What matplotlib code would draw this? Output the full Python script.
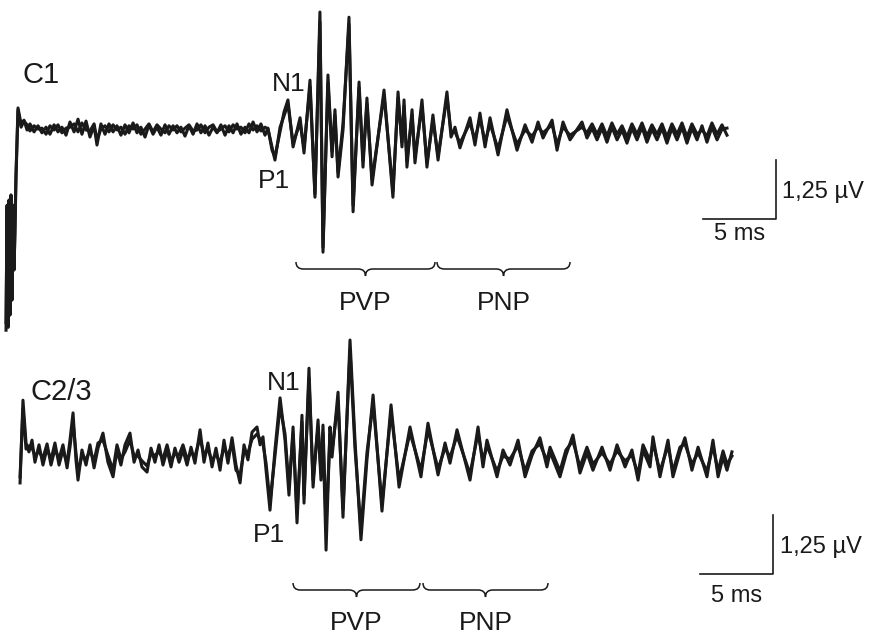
import numpy as np
import matplotlib.pyplot as plt
from matplotlib.path import Path
from matplotlib.patches import PathPatch

# Averaged evoked potentials, two runs per channel (time in ms, amplitude in uV)
c1_time = [
    -0.82, -0.75, -0.68, -0.62, -0.55, -0.48, -0.41, -0.34, -0.27, -0.21, -0.14, -0.07, 0.00,
    0.21, 0.41, 0.62, 0.82, 1.10, 1.37, 1.64, 1.92, 2.19, 2.47,
    2.74, 3.01, 3.29, 3.56, 3.84, 4.11, 4.38, 4.66, 4.93, 5.21,
    5.41, 5.68, 5.96, 6.23, 6.51, 6.78, 7.05, 7.33, 7.60, 7.88,
    8.15, 8.42, 8.70, 8.97, 9.25, 9.52, 9.79, 10.07, 10.34, 10.62,
    10.89, 11.16, 11.44, 11.71, 11.99, 12.26, 12.53, 12.81, 13.08, 13.36,
    13.63, 13.90, 14.18, 14.45, 14.73, 15.00, 15.27, 15.55, 15.82, 16.10,
    16.37, 16.64, 16.92, 17.12,
    17.40, 17.60, 17.95, 18.22, 18.49, 18.84, 19.32, 19.59, 20.00, 20.34,
    20.68, 20.89, 21.23, 21.51, 21.71, 21.92, 22.26, 22.67, 22.95, 23.36,
    23.63, 23.90, 24.25, 25.07, 25.68, 26.03, 26.30, 26.44, 26.64, 26.99,
    27.19, 27.67, 28.01, 28.42, 28.77, 29.38, 29.66, 29.93, 30.27, 30.96,
    31.30, 31.64, 31.99, 32.33, 32.88, 33.49, 34.18, 34.73, 35.21, 35.62,
    35.96, 36.58, 36.92, 37.33, 37.81, 38.63, 38.97, 39.32, 39.66, 40.00,
    40.34, 40.68, 41.03, 41.37, 41.71, 42.05, 42.40, 42.74, 43.08, 43.42,
    43.77, 44.11, 44.45, 44.79, 45.14, 45.48, 45.82, 46.16, 46.51, 46.85,
    47.19, 47.53, 47.88, 48.22, 48.56,
]
c1_run1 = [
    -4.26, -1.60, -4.15, -1.49, -3.94, -1.38, -3.62, -1.60, -2.98, -2.13, -0.96, -0.21, 0.47,
    0.13, 0.21, 0.00, 0.13, -0.04, 0.09, -0.06, 0.06, -0.09, 0.11,
    -0.04, 0.06, -0.11, 0.17, -0.04, 0.23, -0.09, 0.19, -0.15, 0.09,
    -0.32, 0.13, -0.09, 0.13, -0.04, 0.09, -0.11, 0.11, -0.06, 0.15,
    -0.06, 0.06, -0.15, 0.11, -0.09, 0.06, -0.11, 0.11, -0.09, 0.09,
    -0.06, 0.06, -0.13, 0.09, -0.09, 0.13, -0.06, 0.09, -0.11, 0.06,
    -0.06, 0.11, -0.11, 0.09, -0.06, 0.13, -0.09, 0.06, -0.06, 0.17,
    -0.04, 0.13, -0.11, 0.04,
    -0.43, -0.57, -0.04, 0.38, 0.64, -0.36, 0.26, -0.49, 1.06, -1.43,
    2.51, -2.60, 1.17, -0.57, 0.43, -1.00, 0.00, 2.40, -1.74, 1.02,
    -0.79, 0.68, -1.17, 0.85, -1.43, 0.81, -0.36, 0.64, -0.79, 0.43,
    -0.70, 0.64, -0.79, 0.32, -0.64, 0.81, -0.15, 0.06, -0.38, 0.26,
    -0.32, 0.36, -0.36, 0.26, -0.53, 0.43, -0.43, 0.11, -0.26, 0.17,
    -0.17, 0.21, -0.43, 0.17, -0.21, 0.17, -0.17, 0.04, -0.21, 0.04,
    -0.26, 0.06, -0.21, 0.00, -0.28, 0.04, -0.21, 0.06, -0.26, 0.02,
    -0.21, 0.04, -0.28, 0.04, -0.21, 0.06, -0.28, 0.04, -0.21, 0.09,
    -0.26, 0.06, -0.21, 0.02, 0.04,
]
c1_run2 = [
    -4.10, -1.70, -4.20, -1.55, -3.80, -1.45, -3.50, -1.75, -2.90, -2.20, -1.05, -0.30, 0.42,
    0.06, 0.19, 0.11, -0.02, 0.09, 0.02, 0.04, -0.09, 0.09, 0.00,
    0.11, -0.06, 0.04, 0.06, 0.13, -0.04, 0.15, 0.00, -0.02, 0.13,
    -0.21, 0.02, 0.09, -0.04, 0.11, 0.00, 0.06, -0.09, 0.09, 0.02,
    0.11, -0.09, 0.02, 0.13, -0.04, 0.11, 0.02, -0.06, 0.09, 0.00,
    0.09, -0.04, 0.04, 0.11, -0.02, 0.00, 0.11, -0.06, 0.06, 0.11,
    -0.04, 0.02, 0.09, -0.04, 0.11, 0.02, 0.06, -0.06, 0.13, 0.00,
    0.09, -0.02, 0.06, 0.02,
    -0.36, -0.64, 0.06, 0.30, 0.55, -0.28, 0.15, -0.38, 0.92, -1.36,
    2.30, -2.50, 1.00, -0.45, 0.30, -0.90, 0.13, 2.25, -1.60, 0.90,
    -0.64, 0.55, -1.05, 0.74, -1.30, 0.68, -0.26, 0.51, -0.66, 0.32,
    -0.58, 0.51, -0.70, 0.21, -0.55, 0.70, -0.04, -0.04, -0.28, 0.15,
    -0.21, 0.26, -0.26, 0.13, -0.40, 0.30, -0.30, 0.00, -0.13, 0.06,
    -0.06, 0.11, -0.30, 0.06, -0.11, 0.06, -0.06, 0.13, -0.09, 0.13,
    -0.13, 0.15, -0.09, 0.09, -0.15, 0.13, -0.09, 0.15, -0.13, 0.11,
    -0.09, 0.13, -0.15, 0.13, -0.09, 0.15, -0.15, 0.13, -0.09, 0.00,
    -0.13, 0.15, -0.09, 0.11, -0.11,
]

c23_time = [
    0.14, 0.34, 0.55, 0.75, 0.96, 1.16, 1.44, 1.71, 1.99, 2.26,
    2.53, 2.81, 3.08, 3.36, 3.56, 3.77, 3.97, 4.11, 4.38, 4.66,
    4.93, 5.21, 5.48, 5.82, 6.16, 6.51, 6.78, 7.05, 7.33, 7.67,
    7.95, 8.22, 8.49, 8.84, 9.11, 9.38, 9.66, 9.93, 10.21, 10.48,
    10.75, 11.03, 11.30, 11.58, 11.85, 12.12, 12.47, 12.74, 13.01, 13.29,
    13.56, 13.84, 14.11, 14.38, 14.66, 14.93, 15.21, 15.48, 15.75, 16.03,
    16.37, 16.58, 16.78, 16.99, 17.26, 17.60, 17.95, 18.29, 18.56, 18.84,
    19.11, 19.45, 19.59, 19.93, 20.21, 20.55, 20.75, 20.89, 21.10, 21.37,
    21.51, 21.92, 22.26, 22.74, 23.08, 23.49, 23.90, 24.32, 24.93, 25.55,
    26.10, 26.85, 27.60, 28.08, 28.77, 29.25, 29.59, 30.07, 30.96, 31.51,
    31.85, 32.12, 32.81, 33.22, 33.70, 34.25, 34.73, 35.21, 35.75, 36.23,
    36.44, 37.12, 37.53, 38.01, 38.49, 38.97, 39.38, 40.00, 40.55, 41.03,
    41.58, 42.05, 42.47, 42.81, 43.29, 43.49, 43.97, 44.52, 44.86, 45.34,
    45.68, 46.16, 46.58, 47.19, 47.60, 47.95, 48.29, 48.56, 48.90,
]
c23_run1 = [
    -0.53, 1.23, 0.32, 0.13, 0.38, -0.09, 0.28, -0.15, 0.21, -0.04,
    0.32, -0.15, 0.17, -0.11, 0.38, 0.96, -0.04, -0.47, 0.17, -0.15,
    0.28, -0.21, 0.21, 0.53, -0.09, -0.40, 0.17, -0.15, 0.28, 0.53,
    -0.09, 0.17, -0.19, -0.30, 0.21, -0.09, 0.28, -0.15, 0.17, -0.19,
    0.21, -0.09, 0.17, -0.15, 0.23, -0.11, 0.60, -0.09, 0.32, -0.19,
    0.21, -0.26, 0.38, -0.11, 0.43, -0.15, -0.53, 0.28, -0.04, 0.55,
    0.66, 0.28, 0.45, -0.26, -1.11, 0.17, 1.28, 0.38, -0.79, 0.66,
    -1.38, 0.91, -0.96, 1.91, -0.62, 0.81, -0.47, 0.53, -1.96, 0.66,
    0.02, 1.40, -1.26, 2.51, 0.38, -1.74, -0.04, 1.34, -1.13, 1.13,
    -0.62, 0.66, -0.40, 0.74, -0.36, 0.32, -0.11, 0.60, -0.47, 0.66,
    -0.19, 0.38, -0.40, 0.17, -0.15, 0.38, -0.40, 0.06, 0.43, -0.19,
    0.13, -0.40, 0.06, 0.49, -0.32, 0.11, -0.26, 0.23, -0.26, 0.28,
    -0.19, 0.17, -0.47, 0.17, -0.19, 0.45, -0.40, 0.38, -0.40, 0.13,
    0.43, -0.26, 0.23, -0.40, 0.38, -0.40, 0.02, -0.26, 0.13,
]
c23_run2 = [
    -0.40, 1.05, 0.19, 0.26, 0.21, 0.06, 0.13, 0.00, 0.30, -0.15,
    0.19, -0.02, 0.28, -0.21, 0.23, 0.77, 0.11, -0.30, 0.04, -0.02,
    0.15, -0.06, 0.32, 0.38, 0.06, -0.26, 0.28, -0.02, 0.13, 0.38,
    0.04, 0.04, -0.06, -0.17, 0.09, 0.06, 0.13, -0.02, 0.28, -0.06,
    0.09, 0.06, 0.28, -0.02, 0.11, 0.04, 0.43, 0.06, 0.19, -0.06,
    0.09, -0.11, 0.23, 0.04, 0.30, -0.26, -0.36, 0.15, 0.11, 0.40,
    0.51, 0.40, 0.30, -0.11, -0.94, 0.04, 1.10, 0.51, -0.62, 0.51,
    -1.17, 0.77, -0.79, 1.70, -0.47, 0.66, -0.32, 0.70, -1.45, 0.51,
    0.15, 1.21, -1.08, 2.30, 0.21, -1.53, 0.11, 1.17, -0.98, 0.98,
    -0.47, 0.53, -0.26, 0.60, -0.23, 0.21, 0.02, 0.47, -0.34, 0.53,
    -0.06, 0.26, -0.28, 0.04, -0.02, 0.26, -0.28, 0.15, 0.30, -0.06,
    0.23, -0.28, 0.17, 0.36, -0.19, 0.23, -0.13, 0.11, -0.13, 0.15,
    -0.06, 0.06, -0.34, 0.28, -0.06, 0.32, -0.28, 0.26, -0.28, 0.23,
    0.30, -0.13, 0.11, -0.28, 0.26, -0.28, 0.15, -0.13, 0.04,
]

# component windows (ms) for the braces
c1_windows = [("PVP", 19.04, 28.56), ("PNP", 28.70, 37.81)]
c23_windows = [("PVP", 18.84, 27.53), ("PNP", 27.74, 36.30)]
scale_ms = 5
scale_uv = 1.25

W, H = 888, 635
PX_PER_MS = 14.6
PX_PER_UV = 47.0
c23_offset = -328 / PX_PER_UV  # vertical gap between the two channels

plt.rcParams['font.family'] = ['Liberation Sans', 'DejaVu Sans']
fig = plt.figure(figsize=(W / 100, H / 100), dpi=100)
ax = fig.add_axes([0, 0, 1, 1])
ax.set_xlim(-18 / PX_PER_MS, (W - 18) / PX_PER_MS)
ax.set_ylim(-(H - 130) / PX_PER_UV, 130 / PX_PER_UV)
ax.axis('off')

ink = '#1a1a1a'
for run in [c1_run1, c1_run2]:
    ax.plot(c1_time, run, color=ink, lw=2.2, solid_joinstyle='round')
for run in [c23_run1, c23_run2]:
    ax.plot(c23_time, np.array(run) + c23_offset, color=ink, lw=2.2,
            solid_joinstyle='round')


def brace(t0, t1, ytop, depth):
    r = 0.5
    tc = (t0 + t1) / 2
    ym = ytop - depth / 2
    yb = ytop - depth
    verts = [(t0, ytop), (t0, ym), (t0 + r, ym),
             (tc - r, ym), (tc, ym), (tc, yb),
             (tc, ym), (tc + r, ym),
             (t1 - r, ym), (t1, ym), (t1, ytop)]
    codes = [Path.MOVETO, Path.CURVE3, Path.CURVE3,
             Path.LINETO, Path.CURVE3, Path.CURVE3,
             Path.CURVE3, Path.CURVE3,
             Path.LINETO, Path.CURVE3, Path.CURVE3]
    ax.add_patch(PathPatch(Path(verts, codes), fill=False, color=ink, lw=1.1))


def px_text(x, y, s, size, ha='left'):
    fig.text(x / W, 1 - y / H, s, fontsize=size, ha=ha, va='baseline', color=ink)


# component braces and labels
for name, t0, t1 in c1_windows:
    brace(t0, t1, -132 / PX_PER_UV, 14 / PX_PER_UV)
    px_text(18 + (t0 + t1) / 2 * PX_PER_MS, 310, name, 19, ha='center')
for name, t0, t1 in c23_windows:
    brace(t0, t1, c23_offset - 125 / PX_PER_UV, 14 / PX_PER_UV)
    px_text(18 + (t0 + t1) / 2 * PX_PER_MS, 630, name, 19, ha='center')

# scale bars
for corner_t, corner_v, ty in [(51.92, -89 / PX_PER_UV, 240),
                               (51.71, c23_offset - 116 / PX_PER_UV, 602)]:
    ax.plot([corner_t - scale_ms, corner_t, corner_t],
            [corner_v, corner_v, corner_v + scale_uv], color=ink, lw=1.2)
    px_text(18 + (corner_t - scale_ms / 2) * PX_PER_MS, ty, '5 ms', 17, ha='center')
px_text(782, 198, '1,25 \u00b5V', 17)
px_text(780, 553, '1,25 \u00b5V', 17)

px_text(22, 83, 'C1', 21)
px_text(272, 91, 'N1', 19)
px_text(258, 188, 'P1', 19)
px_text(30, 400, 'C2/3', 21)
px_text(267, 390, 'N1', 19)
px_text(253, 542, 'P1', 19)

fig.savefig('out.png', dpi=100, facecolor='white')
